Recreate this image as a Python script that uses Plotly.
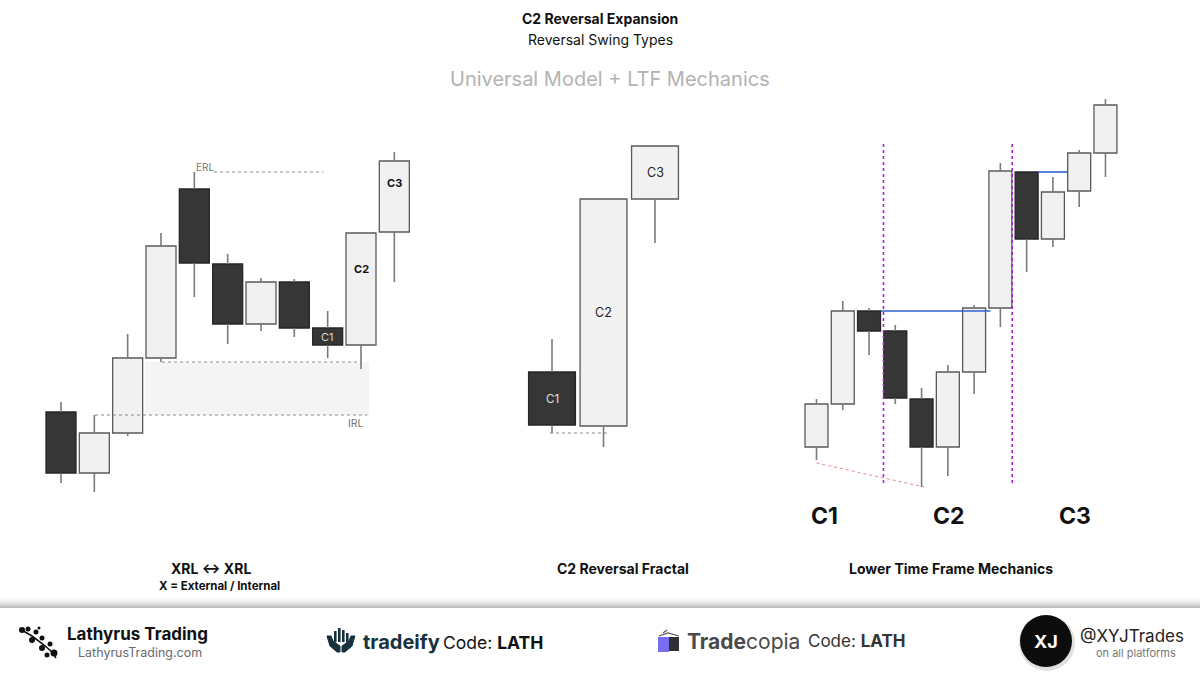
import plotly.graph_objects as go

W, H = 1200, 675

# ---------------- data (arbitrary price units) ----------------
# Left panel: XRL <-> XRL
left_open = [88, 27, 67, 142, 311, 236, 176, 218, 172, 155, 268]
left_high = [98, 85, 166, 267, 328, 246, 222, 221, 189, 267, 348]
left_low = [17, 8, 64, 138, 203, 156, 169, 163, 142, 131, 218]
left_close = [27, 67, 142, 254, 237, 176, 218, 172, 155, 267, 339]
left_labels = ["", "", "", "", "", "", "", "", "C1", "C2", "C3"]

# Middle panel: C2 Reversal Fractal
mid_open = [128, 74, 301]
mid_high = [161, 301, 354]
mid_low = [67, 53, 257]
mid_close = [75, 301, 354]
mid_labels = ["C1", "C2", "C3"]

# Right panel: Lower Time Frame Mechanics
right_open = [53, 96, 189, 169, 101, 53, 128, 192, 328, 261, 309, 347]
right_high = [101, 199, 192, 175, 112, 135, 195, 337, 328, 323, 350, 401]
right_low = [40, 90, 145, 96, 13, 24, 106, 173, 228, 253, 293, 323]
right_close = [96, 189, 169, 102, 53, 128, 192, 329, 261, 308, 347, 395]
right_phase_labels = ["C1", "C2", "C3"]

panel_titles = ["XRL \u2194 XRL", "C2 Reversal Fractal", "Lower Time Frame Mechanics"]

FONT = "Inter, 'Noto Sans', sans-serif"
LIGHT = "#f1f1f1"
DARK = "#363636"
WICK = "#7a7a7a"

fig = go.Figure()


def add_candles(opens, highs, lows, closes, xa, ya, width):
    xs = list(range(len(opens)))
    wx, wy = [], []
    for i, (o, h, l, c) in enumerate(zip(opens, highs, lows, closes)):
        top, bot = max(o, c), min(o, c)
        if h > top:
            wx += [i, i, None]
            wy += [h, top, None]
        if l < bot:
            wx += [i, i, None]
            wy += [bot, l, None]
    fig.add_trace(go.Scatter(x=wx, y=wy, mode="lines", xaxis=xa, yaxis=ya,
                             line=dict(color=WICK, width=1.6), hoverinfo="skip",
                             showlegend=False))
    fills = [DARK if c < o else LIGHT for o, c in zip(opens, closes)]
    edges = ["#262626" if c < o else "#5a5a5a" for o, c in zip(opens, closes)]
    fig.add_trace(go.Bar(x=xs, y=[abs(c - o) for o, c in zip(opens, closes)],
                         base=[min(o, c) for o, c in zip(opens, closes)],
                         width=width, xaxis=xa, yaxis=ya,
                         marker=dict(color=fills, line=dict(color=edges, width=1.3)),
                         hoverinfo="skip", showlegend=False))


def add_line(xs, ys, xa, ya, color, width=1.0, dash="dot"):
    fig.add_trace(go.Scatter(x=xs, y=ys, mode="lines", xaxis=xa, yaxis=ya,
                             line=dict(color=color, width=width, dash=dash),
                             hoverinfo="skip", showlegend=False))


# ---- left panel ----
zone_top = left_low[3]
zone_bot = left_high[1]
fig.add_shape(type="rect", xref="x", yref="y", x0=2.52, x1=9.25, y0=zone_bot, y1=zone_top,
              fillcolor="#f4f4f4", line=dict(width=0), layer="below")
add_line([4.59, 7.87], [left_high[4]] * 2, "x", "y", "#8a8a8a")
add_line([1.02, 9.19], [left_high[1]] * 2, "x", "y", "#8a8a8a")
add_line([3.03, 8.98], [left_low[3]] * 2, "x", "y", "#8a8a8a")
add_candles(left_open, left_high, left_low, left_close, "x", "y", 0.9)

# ---- middle panel ----
add_line([-0.04, 1.12], [mid_low[0]] * 2, "x2", "y2", "#8a8a8a")
add_candles(mid_open, mid_high, mid_low, mid_close, "x2", "y2", 0.91)

# ---- right panel ----
add_line([0.0, 4.1], [37, right_low[4]], "x3", "y3", "#e58a8a", 1.0, "dot")
add_line([2.55, 2.55], [17, 356], "x3", "y3", "#b21fd6", 1.6, "dot")
add_line([7.45, 7.45], [17, 357], "x3", "y3", "#b21fd6", 1.6, "dot")
add_candles(right_open, right_high, right_low, right_close, "x3", "y3", 0.875)
add_line([2.45, 6.62], [right_close[1]] * 2, "x3", "y3", "#2d62d2", 1.6, "solid")
add_line([8.44, 9.57], [right_open[8]] * 2, "x3", "y3", "#2d62d2", 1.6, "solid")

# ---------------- annotations ----------------
anns = []


def ann(text, px, py, size, color="#111", xanchor="center", xref="paper", yref="paper", x=None, y=None):
    anns.append(dict(text=text, x=px / W if x is None else x, y=1 - py / H if y is None else y,
                     xref=xref, yref=yref, xanchor=xanchor, yanchor="middle", showarrow=False,
                     font=dict(family=FONT, size=size, color=color)))


# candle labels (data coords)
for i, lab in enumerate(left_labels):
    if lab:
        mid = (left_open[i] + left_close[i]) / 2
        if lab == "C1":
            ann(lab, 0, 0, 11, "#d8d8d8", xref="x", yref="y", x=i, y=mid)
        else:
            ann("<b>" + lab + "</b>", 0, 0, 11, "#111", xref="x", yref="y", x=i,
                y=mid + (20 if lab == "C2" else 14))
for i, lab in enumerate(mid_labels):
    mid = (mid_open[i] + mid_close[i]) / 2
    ann(lab, 0, 0, 12.5 if lab != "C1" else 11.5, "#e0e0e0" if lab == "C1" else "#222",
        xref="x2", yref="y2", x=i, y=mid)

ann("ERL", 0, 0, 10, "#777", xref="x", yref="y", x=4.32, y=333)
ann("IRL", 0, 0, 10.5, "#777", xref="x", yref="y", x=8.86, y=77)

for lab, px in zip(right_phase_labels, [824, 949, 1075]):
    ann("<b>" + lab + "</b>", px, 516, 23, "#111")

# titles
ann("<b>C2 Reversal Expansion</b>", 600, 19, 14, "#111")
ann("Reversal Swing Types", 600, 39, 14, "#111")
ann("Universal Model + LTF Mechanics", 610, 79, 20, "#b3b3b3")

# panel captions
ann("<b>" + panel_titles[0] + "</b>", 211, 568, 14, "#111")
ann("<b>X = External / Internal</b>", 219, 586, 11.5, "#111")
ann("<b>" + panel_titles[1] + "</b>", 623, 568, 14, "#111")
ann("<b>" + panel_titles[2] + "</b>", 951, 568, 14, "#111")

# footer texts
ann("<b>Lathyrus Trading</b>", 65, 634, 17, "#111", xanchor="left")
ann("LathyrusTrading.com", 76, 652, 12.5, "#6a6a6a", xanchor="left")
ann("<b>tradeify</b>", 361, 642, 20, "#17323e", xanchor="left")
ann("Code: <b>LATH</b>", 441, 642, 17.5, "#111", xanchor="left")
ann("<b>Trade</b>copia", 685, 641, 21, "#4a4a4a", xanchor="left")
ann("Code: <b>LATH</b>", 806, 641, 17, "#333", xanchor="left")
ann("@XYJTrades", 1078, 636, 17, "#222", xanchor="left")
ann("on all platforms", 1094, 653, 11, "#777", xanchor="left")
ann("<b>XJ</b>", 1046, 641, 18, "#ffffff")

# ---------------- decorative footer shapes ----------------
shapes = []


def P(x, y):
    return x / W, 1 - y / H


def rect(x0, y0, x1, y1, color, line=None):
    a = P(x0, y0)
    b = P(x1, y1)
    shapes.append(dict(type="rect", xref="paper", yref="paper", x0=a[0], y0=b[1], x1=b[0], y1=a[1],
                       fillcolor=color, line=dict(width=0) if line is None else line, layer="above"))


def circ(cx, cy, r, color):
    a = P(cx - r, cy - r)
    b = P(cx + r, cy + r)
    shapes.append(dict(type="circle", xref="paper", yref="paper", x0=a[0], y0=b[1], x1=b[0], y1=a[1],
                       fillcolor=color, line=dict(width=0), layer="above"))


def path(pts, color, width=1.5, fill=None):
    s = "M " + " L ".join("%f,%f" % P(x, y) for x, y in pts)
    if fill:
        s += " Z"
    shapes.append(dict(type="path", xref="paper", yref="paper", path=s,
                       line=dict(color=color, width=width), fillcolor=fill if fill else "rgba(0,0,0,0)",
                       layer="above"))


# shadow separator
shade = [0.02, 0.035, 0.05, 0.07, 0.09, 0.12, 0.15, 0.19, 0.23, 0.26]
for k, a in enumerate(shade):
    rect(0, 598 + k, W, 599 + k, "rgba(0,0,0,%.3f)" % a)

# Lathyrus branch icon
path([(20, 629), (32, 636), (44, 645), (52, 652), (56, 658)], "#111", 1.6)
for (cx, cy, r) in [(22, 630, 3), (28, 629, 2.5), (36, 632, 2.5), (32, 640, 3), (42, 638, 2.5),
                    (42, 648, 3), (50, 644, 2.5), (54, 653, 3.5), (47, 655, 2.5), (39, 628, 1.5)]:
    circ(cx, cy, r, "#111")

# tradeify icon
for (x0, y0) in [(334, 631), (338, 628), (342, 630), (346, 633)]:
    rect(x0, y0, x0 + 2.6, 642, "#17323e")
path([(327, 636), (330, 646), (337, 652), (340, 652), (340, 646), (333, 641), (331, 636)], "#17323e", 1, "#17323e")
path([(355, 636), (352, 646), (345, 652), (342, 652), (342, 646), (349, 641), (351, 636)], "#17323e", 1, "#17323e")

# tradecopia cube
rect(658, 637, 669, 652, "#7a6cf0")
rect(669, 637, 679, 651, "#2f2f36")
path([(659, 636), (668, 633), (679, 636)], "#555", 1.2)
path([(663, 633), (667, 630)], "#555", 1.2)

# XYJ circle logo
circ(1047, 643, 28, "rgba(0,0,0,0.12)")
circ(1046, 641, 26, "#0c0c0c")

fig.update_layout(
    width=W, height=H, margin=dict(l=0, r=0, t=0, b=0),
    paper_bgcolor="white", plot_bgcolor="white",
    barmode="overlay", showlegend=False,
    annotations=anns, shapes=fig.layout.shapes + tuple(shapes),
    xaxis=dict(domain=[0.0, 0.5], range=[-1.83, 16.17], visible=False, fixedrange=True),
    yaxis=dict(domain=[0, 1], range=[-175, 500], visible=False, fixedrange=True),
    xaxis2=dict(domain=[0.4, 0.6], range=[-1.398, 3.262], visible=False, anchor="y2"),
    yaxis2=dict(domain=[0, 1], range=[-175, 500], visible=False, anchor="x2"),
    xaxis3=dict(domain=[0.65, 0.95], range=[-1.389, 12.315], visible=False, anchor="y3"),
    yaxis3=dict(domain=[0, 1], range=[-175, 500], visible=False, anchor="x3"),
)

fig.write_html("out.html", config={"displayModeBar": False},
               post_script="document.body.style.margin='0';document.body.style.overflow='hidden';")
